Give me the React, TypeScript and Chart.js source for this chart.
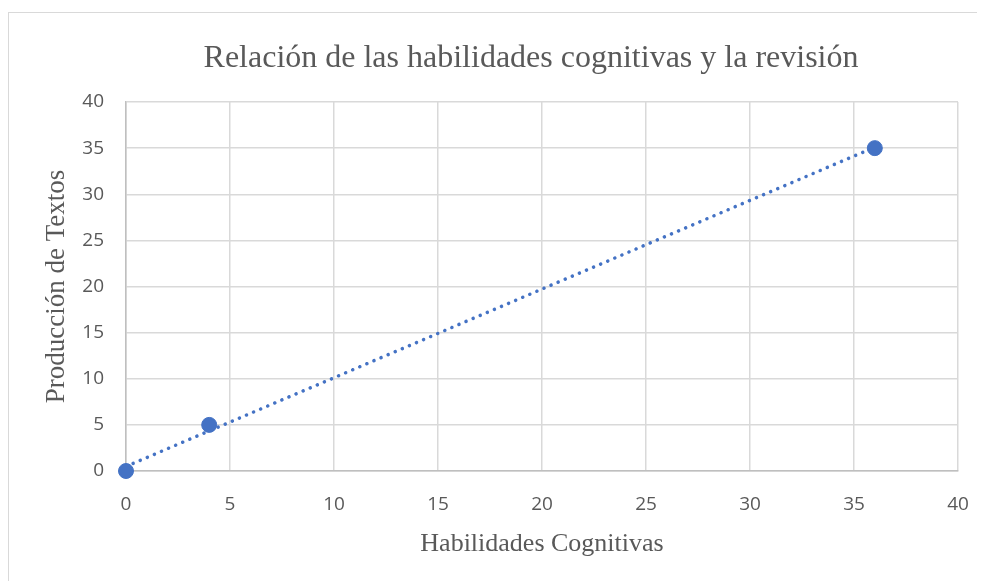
import React, { useEffect, useRef } from "react";
import { Chart, registerables } from "chart.js";

Chart.register(...registerables);

const titleText = "Relación de las habilidades cognitivas y la revisión";
const xTitle = "Habilidades Cognitivas";
const yTitle = "Producción de Textos";

const habilidades = [0, 4, 36];
const produccion = [0, 5, 35];

const trendX = [0, 36];
const trendY = [0.5, 35.1];

const axisMin = 0;
const axisMax = 40;
const axisStep = 5;

const BLUE = "#4472c4";
const TEXT = "#595959";
const GRID = "#d9d9d9";

export default function App() {
  const ref = useRef<HTMLCanvasElement | null>(null);

  useEffect(() => {
    if (!ref.current) return;
    const chart = new Chart(ref.current, {
      type: "scatter",
      data: {
        datasets: [
          {
            label: "Trend",
            type: "line",
            data: trendX.map((x, i) => ({ x, y: trendY[i] })),
            borderColor: BLUE,
            borderWidth: 3.5,
            borderDash: [0.1, 7.6],
            borderCapStyle: "round",
            pointRadius: 0,
            fill: false,
            clip: false,
            order: 2,
          },
          {
            label: "Datos",
            data: habilidades.map((x, i) => ({ x, y: produccion[i] })),
            backgroundColor: BLUE,
            borderColor: BLUE,
            pointRadius: 7.5,
            pointHoverRadius: 7.5,
            clip: false,
            order: 1,
          },
        ],
      },
      options: {
        responsive: false,
        animation: false,
        layout: { padding: { left: 0, right: 0, top: 0, bottom: 0 } },
        plugins: {
          legend: { display: false },
          tooltip: { enabled: false },
          title: {
            display: true,
            text: titleText,
            color: TEXT,
            font: { family: "'Liberation Serif', serif", size: 32, weight: "normal" },
            padding: { top: 26, bottom: 24.6 },
          },
        },
        scales: {
          x: {
            type: "linear",
            min: axisMin,
            max: axisMax,
            ticks: {
              stepSize: axisStep,
              color: TEXT,
              padding: 22,
              font: { family: "'Open Sans', sans-serif", size: 19 },
            },
            grid: { color: GRID, lineWidth: 1.5, drawTicks: false },
            border: { color: "#bfbfbf", width: 1.5 },
            title: {
              display: true,
              text: xTitle,
              color: TEXT,
              font: { family: "'Liberation Serif', serif", size: 26 },
              padding: { top: 0, bottom: 21 },
            },
            afterFit: (s: any) => {
              s.height = 110;
            },
          },
          y: {
            type: "linear",
            min: axisMin,
            max: axisMax,
            ticks: {
              stepSize: axisStep,
              color: TEXT,
              padding: 22,
              font: { family: "'Open Sans', sans-serif", size: 19 },
            },
            grid: { color: GRID, lineWidth: 1.5, drawTicks: false },
            border: { color: "#bfbfbf", width: 1.5 },
            title: {
              display: true,
              text: yTitle,
              color: TEXT,
              font: { family: "'Liberation Serif', serif", size: 27 },
              padding: { top: 32, bottom: 0 },
            },
            afterFit: (s: any) => {
              s.width = 117;
            },
          },
          pad: {
            type: "linear",
            position: "right",
            display: true,
            grid: { display: false },
            border: { display: false },
            ticks: { display: false },
            afterFit: (s: any) => {
              s.width = 95;
            },
          },
        },
      },
    });
    return () => chart.destroy();
  }, []);

  return (
    <div
      style={{
        marginTop: 4,
        border: "1px solid #d9d9d9",
        borderRight: "none",
        width: 1100,
        height: 600,
        boxSizing: "border-box",
        overflow: "hidden",
        background: "#fff",
      }}
    >
      <canvas ref={ref} width={1044} height={568} style={{ display: "block" }} />
    </div>
  );
}
